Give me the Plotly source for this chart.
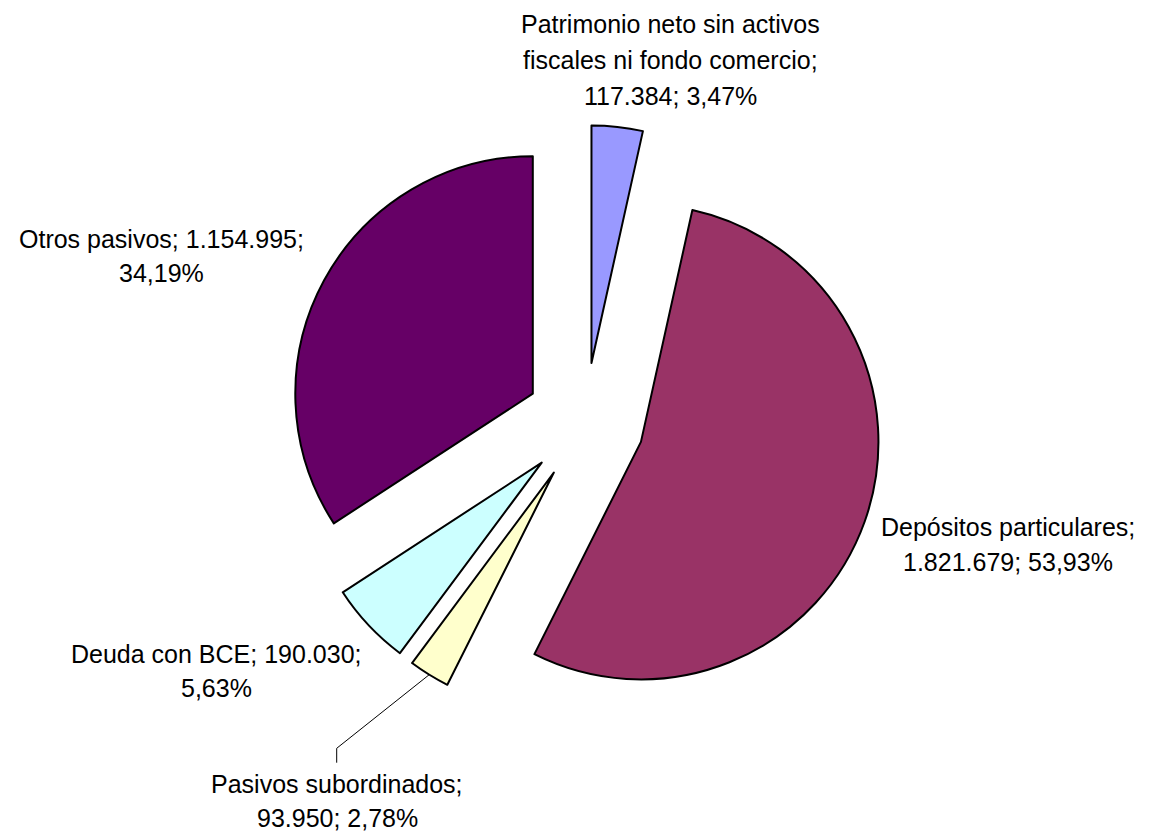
import math
import plotly.graph_objects as go

# ---------------- data ----------------
categories = [
    "Patrimonio neto sin activos fiscales ni fondo comercio",
    "Depósitos particulares",
    "Pasivos subordinados",
    "Deuda con BCE",
    "Otros pasivos",
]
values = [117384, 1821679, 93950, 190030, 1154995]
colors = ["#9999FF", "#993366", "#FFFFCC", "#CCFFFF", "#660066"]

# ---------------- helpers ----------------
W, H = 1149, 836
total = sum(values)


def fmt_int(v):
    return f"{v:,}".replace(",", ".")


def fmt_pct(v):
    return f"{100 * v / total:.2f}".replace(".", ",") + "%"


def px_to_paper(x, y):
    return x / W, 1 - y / H


# pie geometry (pixels)
CX, CY = 585.0, 422.0
R = 237.5
PULL = 0.25
half = R * (1 + PULL)
dom_x = [(CX - 305) / W, (CX + 305) / W]
dom_y = [1 - (CY + half) / H, 1 - (CY - half) / H]

fig = go.Figure(
    go.Pie(
        labels=categories,
        values=values,
        sort=False,
        direction="clockwise",
        rotation=0,
        pull=[PULL] * len(values),
        marker=dict(colors=colors, line=dict(color="#000000", width=2)),
        textinfo="none",
        hovertemplate="%{label}: %{value}<extra></extra>",
        domain=dict(x=dom_x, y=dom_y),
    )
)

# ---------------- labels ----------------
v = [fmt_int(x) for x in values]
p = [fmt_pct(x) for x in values]
label_lines = [
    (["Patrimonio neto sin activos", "fiscales ni fondo comercio;", f"{v[0]}; {p[0]}"], 670, [24, 60, 96]),
    (["Depósitos particulares;", f"{v[1]}; {p[1]}"], 1008, [527, 561.5]),
    (["Pasivos subordinados;", f"{v[2]}; {p[2]}"], 337, [783.5, 818]),
    ([f"Deuda con BCE; {v[3]};", p[3]], 216, [653.5, 688]),
    ([f"Otros pasivos; {v[4]};", p[4]], 161, [239, 273]),
]
font = dict(family="Liberation Sans, Arial, sans-serif", size=25, color="#000000")
for lines, xc, ys in label_lines:
    for line, yc in zip(lines, ys):
        xp, yp = px_to_paper(xc, yc)
        fig.add_annotation(
            x=xp, y=yp, xref="paper", yref="paper", text=line,
            showarrow=False, xanchor="center", yanchor="middle", font=font,
        )

# leader line for "Pasivos subordinados"
cum = sum(values[:2])
mid_frac = (cum + values[2] / 2) / total
ang = 2 * math.pi * mid_frac
sx = CX + R * (1 + PULL) * math.sin(ang)
sy = CY - R * (1 + PULL) * math.cos(ang)
ex, ey = 336.7, 748.3
fx, fy = 336.7, 762.7
pts = [px_to_paper(sx, sy), px_to_paper(ex, ey), px_to_paper(fx, fy)]
path = "M {} {} L {} {} L {} {}".format(*[c for pt in pts for c in pt])
fig.add_shape(type="path", xref="paper", yref="paper", path=path,
              line=dict(color="#000000", width=1))

fig.update_layout(
    width=W,
    height=H,
    margin=dict(l=0, r=0, t=0, b=0),
    paper_bgcolor="#FFFFFF",
    plot_bgcolor="#FFFFFF",
    showlegend=False,
)

fig.write_html(
    "out.html",
    config={"displayModeBar": False},
    post_script="document.body.style.margin='0';document.body.style.overflow='hidden';",
)
